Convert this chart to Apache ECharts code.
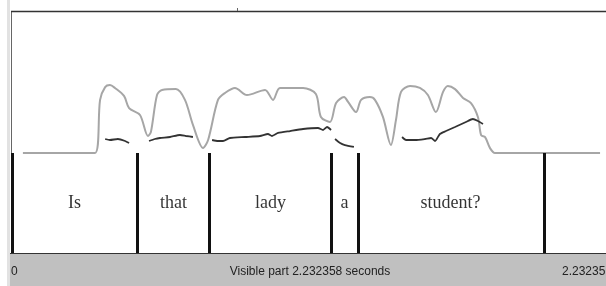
<!DOCTYPE html>
<html>
<head>
<meta charset="utf-8">
<script src="https://cdn.jsdelivr.net/npm/echarts@6/dist/echarts.min.js"></script>
<style>
html,body{margin:0;padding:0;background:#fff;}
#chart{width:606px;height:286px;}
</style>
</head>
<body>
<div id="chart"></div>
<script>
// Total visible duration (s)
var duration = 2.232358;

// Intensity contour: time (s), level (dB)
var intensityTime = [0.041,0.312,0.331,0.350,0.368,0.387,0.421,0.440,0.481,0.511,0.522,0.545,0.564,0.616,0.650,0.680,0.718,0.737,0.774,0.800,0.838,0.883,0.951,0.981,1.007,1.094,1.142,1.161,1.195,1.218,1.248,1.263,1.293,1.312,1.345,1.364,1.394,1.424,1.443,1.462,1.496,1.533,1.563,1.593,1.620,1.638,1.665,1.695,1.725,1.751,1.763,1.778,1.796,1.815,2.210];
var intensityDb   = [50.0,50.0,68.7,73.2,73.9,72.9,70.1,65.8,63.4,56.0,57.4,70.4,72.2,72.5,68.7,59.9,51.8,54.6,68.7,71.1,72.9,70.4,72.2,68.7,72.9,72.9,70.8,62.7,60.9,67.6,69.7,68.0,64.4,68.7,69.7,68.7,62.7,52.8,61.6,71.5,73.6,72.9,70.4,64.4,71.5,73.6,72.5,69.4,67.6,62.7,56.3,55.6,51.8,50.0,50.0];

// Pitch contour segments: time (s), F0 (Hz)
var pitchSeg1Time = [0.350,0.368,0.398,0.425,0.440];
var pitchSeg1Hz   = [116.9,113.9,116.9,110.9,104.9];
var pitchSeg2Time = [0.515,0.537,0.556,0.594,0.631,0.654,0.680];
var pitchSeg2Hz   = [110.9,116.9,119.9,122.9,128.9,125.9,122.9];
var pitchSeg3Time = [0.752,0.774,0.793,0.819,0.876,0.932,0.962,0.977,1.000,1.045,1.094,1.150,1.169,1.184,1.199];
var pitchSeg3Hz   = [113.9,110.9,110.9,119.9,122.9,125.9,131.9,125.9,134.9,140.8,146.8,149.8,143.8,152.8,143.8];
var pitchSeg4Time = [1.214,1.233,1.251,1.285];
var pitchSeg4Hz   = [116.9,104.9,98.9,93.0];
var pitchSeg5Time = [1.466,1.481,1.515,1.552,1.575,1.590,1.608,1.631,1.665,1.706,1.732,1.751,1.770];
var pitchSeg5Hz   = [122.9,113.9,113.9,116.9,119.9,110.9,131.9,140.8,152.8,167.8,176.8,170.8,161.8];

// Word tier
var wordLabels = ["Is","that","lady","a","student?"];
var wordStart  = [0.000,0.470,0.744,1.199,1.300];
var wordEnd    = [0.470,0.744,1.199,1.300,1.996];
var boundaries = [0.000,0.470,0.744,1.199,1.300,1.996];

// Bottom bar labels
var leftTimeLabel = "0";
var rightTimeLabel = "2.232358";
var visibleLabel = "Visible part 2.232358 seconds";

function zip(a,b){ var r=[]; for(var i=0;i<a.length;i++) r.push([a[i],b[i]]); return r; }

var pitchData = [];
[[pitchSeg1Time,pitchSeg1Hz],[pitchSeg2Time,pitchSeg2Hz],[pitchSeg3Time,pitchSeg3Hz],[pitchSeg4Time,pitchSeg4Hz],[pitchSeg5Time,pitchSeg5Hz]].forEach(function(s,i){
  if(i>0) pitchData.push([ (s[0][0]+pitchData[pitchData.length-1][0])/2, null ]);
  pitchData = pitchData.concat(zip(s[0],s[1]));
});

var wordData = wordLabels.map(function(w,i){ return {value:[(wordStart[i]+wordEnd[i])/2, 0.5], name:w}; });

var chart = echarts.init(document.getElementById('chart'), null, {renderer:'canvas'});
var hiddenX = {type:'value', min:0, max:duration, show:false};
chart.setOption({
  animation:false,
  backgroundColor:'#ffffff',
  grid:[
    {left:12, right:0, top:11, height:142},
    {left:12, right:0, top:153, height:100}
  ],
  xAxis:[
    Object.assign({gridIndex:0}, hiddenX),
    Object.assign({gridIndex:1}, hiddenX)
  ],
  yAxis:[
    {gridIndex:0, type:'value', min:50, max:100, show:false},
    {gridIndex:0, type:'value', min:75, max:500, show:false},
    {gridIndex:1, type:'value', min:0, max:1, show:false}
  ],
  series:[
    {type:'line', xAxisIndex:0, yAxisIndex:0, data:zip(intensityTime,intensityDb), symbol:'none', smooth:0.3,
     lineStyle:{color:'#a6a6a6', width:2}, z:2},
    {type:'line', xAxisIndex:0, yAxisIndex:1, data:pitchData, symbol:'none', connectNulls:false, smooth:0.2,
     lineStyle:{color:'#333333', width:1.8}, z:3},
    {type:'scatter', xAxisIndex:1, yAxisIndex:2, data:wordData, symbolSize:0,
     label:{show:true, position:'inside', formatter:function(p){return p.name;},
            fontFamily:'"Liberation Serif","Times New Roman",serif', fontSize:18, color:'#000'},
     markLine:{silent:true, symbol:'none', label:{show:false},
       lineStyle:{color:'#111', width:3, type:'solid'},
       data: boundaries.map(function(b){ return {xAxis:b}; })}
    }
  ],
  graphic:[
    {type:'rect', shape:{x:7, y:0, width:3, height:286}, style:{fill:'#e2e2e2'}, silent:true},
    {type:'line', shape:{x1:11.5, y1:11, x2:11.5, y2:153}, style:{stroke:'#666', lineWidth:1}, silent:true},
    {type:'line', shape:{x1:11, y1:11.5, x2:606, y2:11.5}, style:{stroke:'#333', lineWidth:1.5}, silent:true},
    {type:'line', shape:{x1:237.5, y1:8, x2:237.5, y2:11}, style:{stroke:'#666', lineWidth:1}, silent:true},
    {type:'rect', shape:{x:10, y:253, width:596, height:33}, style:{fill:'#c0c0c0'}, silent:true},
    {type:'line', shape:{x1:10, y1:253.5, x2:606, y2:253.5}, style:{stroke:'#333', lineWidth:1}, silent:true},
    {type:'text', x:11, y:272, style:{text:leftTimeLabel, fill:'#222', font:'12px "Liberation Sans",Arial,sans-serif', textAlign:'left', textVerticalAlign:'middle'}},
    {type:'text', x:310, y:272, style:{text:visibleLabel, fill:'#222', font:'12px "Liberation Sans",Arial,sans-serif', textAlign:'center', textVerticalAlign:'middle'}},
    {type:'text', x:562, y:272, style:{text:rightTimeLabel, fill:'#222', font:'12px "Liberation Sans",Arial,sans-serif', textAlign:'left', textVerticalAlign:'middle'}}
  ]
});
</script>
</body>
</html>
